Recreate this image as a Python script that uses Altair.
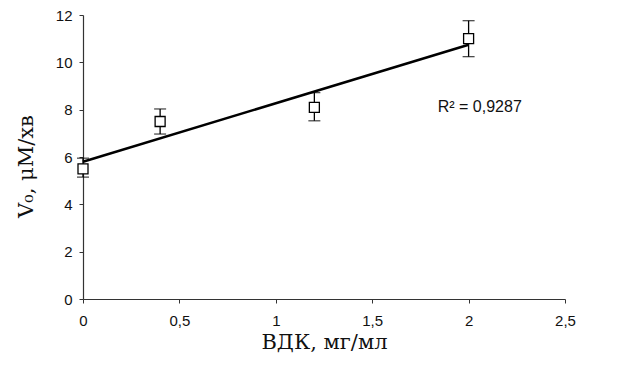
import altair as alt
import pandas as pd

conc = [0, 0.4, 1.2, 2.0]
v0 = [5.5, 7.5, 8.1, 11.0]
err_lo = [5.15, 6.97, 7.53, 10.24]
err_hi = [5.95, 8.03, 8.72, 11.76]
r2_label = ["R² = 0,9287"]
x_ticks = [0, 0.5, 1, 1.5, 2, 2.5]
y_ticks = [0, 2, 4, 6, 8, 10, 12]

df = pd.DataFrame({"x": conc, "y": v0, "lo": err_lo, "hi": err_hi})
txt = pd.DataFrame({"x": [1.84], "y": [8.1], "t": r2_label})

xs = alt.Scale(domain=[0, 2.5], nice=False)
ys = alt.Scale(domain=[0, 12], nice=False)

xaxis = alt.Axis(values=x_ticks, title="ВДК, мг/мл",
                 labelExpr="replace(format(datum.value, '~g'), '.', ',')",
                 labelFlush=False, labelPadding=10, titlePadding=3)
yaxis = alt.Axis(values=y_ticks, title="V₀, μM/хв", labelFlush=False,
                 labelPadding=7, titlePadding=19, titleY=151)

base = alt.Chart(df)

rules = base.mark_rule(color="black", strokeWidth=1.3).encode(
    x=alt.X("x:Q", scale=xs, axis=xaxis),
    y=alt.Y("lo:Q", scale=ys, axis=yaxis),
    y2="hi:Q",
)
cap_lo = base.mark_tick(orient="horizontal", color="black", size=12, thickness=1.3).encode(
    x=alt.X("x:Q", scale=xs), y=alt.Y("lo:Q", scale=ys))
cap_hi = base.mark_tick(orient="horizontal", color="black", size=12, thickness=1.3).encode(
    x=alt.X("x:Q", scale=xs), y=alt.Y("hi:Q", scale=ys))

line = base.transform_regression("x", "y").mark_line(color="black", strokeWidth=2.5).encode(
    x=alt.X("x:Q", scale=xs), y=alt.Y("y:Q", scale=ys))

pts = base.mark_point(shape="square", filled=True, fill="white", stroke="black",
                      strokeWidth=1.3, opacity=1, size=100).encode(
    x=alt.X("x:Q", scale=xs), y=alt.Y("y:Q", scale=ys))

label = alt.Chart(txt).mark_text(align="left", baseline="middle", fontSize=16,
                                 font="Liberation Sans", color="#111").encode(
    x=alt.X("x:Q", scale=xs), y=alt.Y("y:Q", scale=ys), text="t:N")

chart = alt.layer(rules, cap_lo, cap_hi, line, pts, label).properties(
    width=482, height=284,
    autosize=alt.AutoSizeParams(type="none"),
    padding={"left": 83, "top": 15, "right": 54, "bottom": 72},
    background="white",
).configure_view(stroke=None).configure_axis(
    grid=False, domainColor="#333", domainWidth=1.2, tickColor="#333", tickSize=4,
    labelFont="Liberation Sans", labelFontSize=15, labelColor="#111",
    titleFont="DejaVu Serif", titleFontSize=21, titleFontWeight="normal", titleColor="#111",
)

chart.save("out.html", embed_options={"renderer": "svg", "actions": False})
